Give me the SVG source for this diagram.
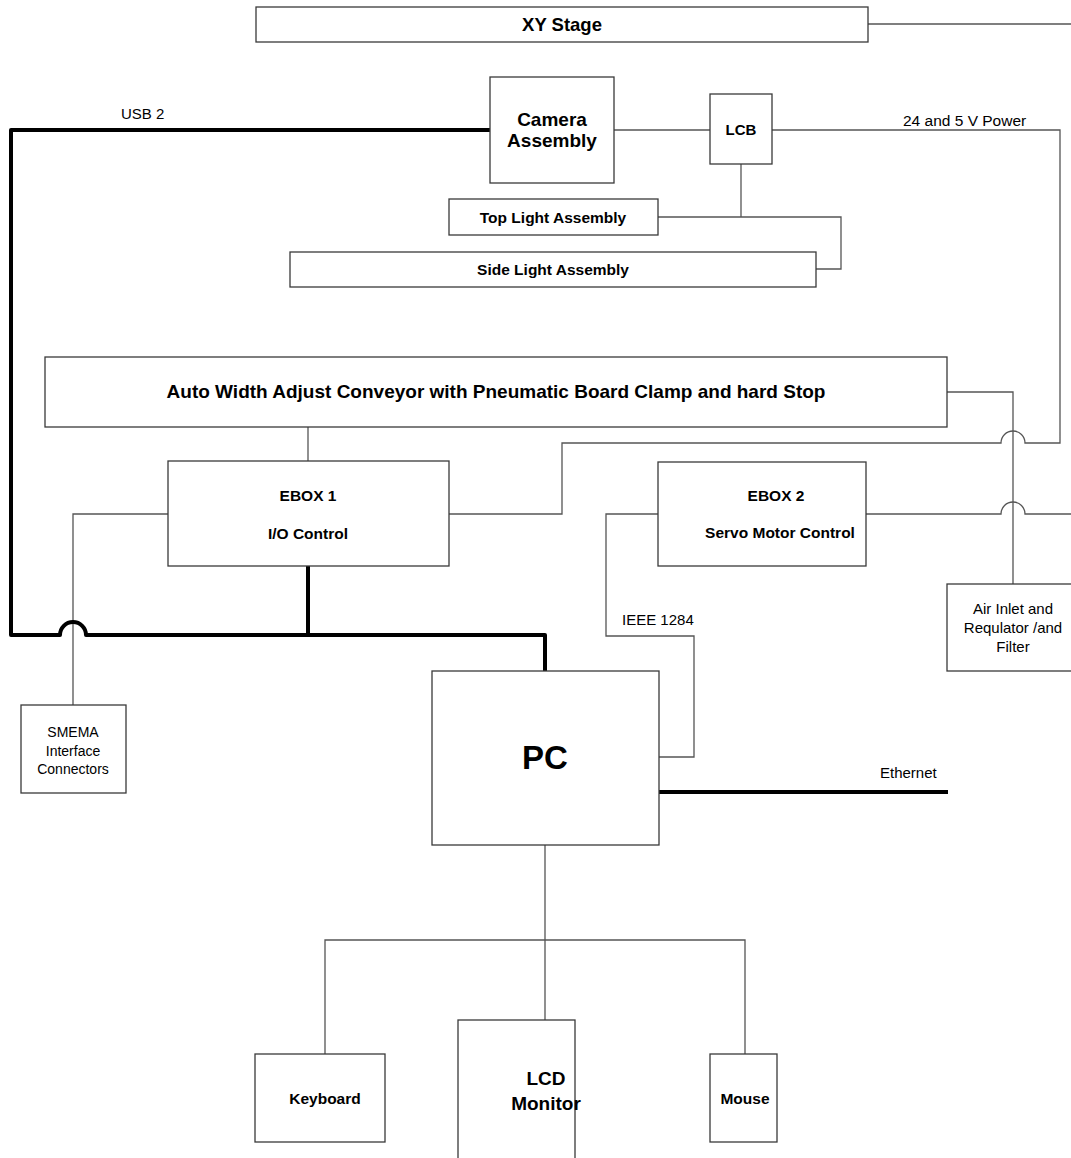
<svg xmlns="http://www.w3.org/2000/svg" width="1071" height="1158" viewBox="0 0 1071 1158">
<style>
.box{fill:#fff;stroke:#3a3a3a;stroke-width:1.3}
.ln{fill:none;stroke:#555;stroke-width:1.3}
.thick{fill:none;stroke:#000;stroke-width:4;stroke-linejoin:round}
text{font-family:"Liberation Sans",Arial,sans-serif;fill:#000;text-anchor:middle}
.b{font-weight:bold}
.m{font-size:15.5px}
.n{font-size:15px}
.lbl{font-size:15px;text-anchor:start}
</style>
<rect width="1071" height="1158" fill="#fff"/>
<g id="connectors">
<path class="ln" d="M868 24 H1071"/>
<path class="ln" d="M614 130 H710"/>
<path class="ln" d="M772 130 H1060 V443 H1025 A12 12 0 0 0 1001 443 H562 V514 H449"/>
<path class="ln" d="M741 164 V217"/>
<path class="ln" d="M658 217 H841 V269 H816"/>
<path class="ln" d="M947 392 H1013 V584"/>
<path class="ln" d="M308 427 V461"/>
<path class="ln" d="M168 514 H73 V705"/>
<path class="ln" d="M866 514 H1001 A12 12 0 0 1 1025 514 H1071"/>
<path class="ln" d="M658 514 H606 V636 H694 V757 H659"/>
<path class="ln" d="M545 845 V940 M325 1054 V940 H745 V1054 M545 940 V1020"/>
<path class="thick" d="M490 130 H11 V635 H60 A13 13 0 0 1 86 635 H545 V673"/>
<path class="thick" d="M308 566 V635"/>
<path class="thick" d="M659 792 H948"/>
<text class="lbl" x="121" y="119">USB 2</text>
<text class="lbl" x="903" y="126" style="font-size:15.5px">24 and 5 V Power</text>
<text class="lbl" x="622" y="625">IEEE 1284</text>
<text class="lbl" x="880" y="778">Ethernet</text>
</g>
<g id="xy-stage"><rect class="box" x="256" y="7" width="612" height="35"/><text class="b" x="562" y="31" font-size="18.5">XY Stage</text></g>
<g id="camera"><rect class="box" x="490" y="77" width="124" height="106"/><text class="b" x="552" y="126" font-size="19">Camera</text><text class="b" x="552" y="147" font-size="19">Assembly</text></g>
<g id="lcb"><rect class="box" x="710" y="94" width="62" height="70"/><text class="b" x="741" y="135" font-size="15">LCB</text></g>
<g id="top-light"><rect class="box" x="449" y="199" width="209" height="36"/><text class="b m" x="553" y="223">Top Light Assembly</text></g>
<g id="side-light"><rect class="box" x="290" y="252" width="526" height="35"/><text class="b m" x="553" y="275">Side Light Assembly</text></g>
<g id="conveyor"><rect class="box" x="45" y="357" width="902" height="70"/><text class="b" x="496" y="398" font-size="19">Auto Width Adjust Conveyor with Pneumatic Board Clamp and hard Stop</text></g>
<g id="ebox1"><rect class="box" x="168" y="461" width="281" height="105"/><text class="b m" x="308" y="501">EBOX 1</text><text class="b m" x="308" y="539">I/O Control</text></g>
<g id="ebox2"><rect class="box" x="658" y="462" width="208" height="104"/><text class="b m" x="776" y="501">EBOX 2</text><text class="b m" x="780" y="538">Servo Motor Control</text></g>
<g id="air"><rect class="box" x="947" y="584" width="132" height="87"/><text class="n" x="1013" y="614">Air Inlet and</text><text class="n" x="1013" y="633">Requlator /and</text><text class="n" x="1013" y="652">Filter</text></g>
<g id="smema"><rect class="box" x="21" y="705" width="105" height="88"/><text x="73" y="737" font-size="14">SMEMA</text><text x="73" y="756" font-size="14">Interface</text><text x="73" y="774" font-size="14">Connectors</text></g>
<g id="pc"><rect class="box" x="432" y="671" width="227" height="174"/><text class="b" x="545" y="769" font-size="33">PC</text></g>
<g id="keyboard"><rect class="box" x="255" y="1054" width="130" height="88"/><text class="b m" x="325" y="1104">Keyboard</text></g>
<g id="lcd"><rect class="box" x="458" y="1020" width="117" height="145"/><text class="b" x="546" y="1085" font-size="19">LCD</text><text class="b" x="546" y="1110" font-size="19">Monitor</text></g>
<g id="mouse"><rect class="box" x="710" y="1054" width="67" height="88"/><text class="b m" x="745" y="1104">Mouse</text></g>
</svg>
